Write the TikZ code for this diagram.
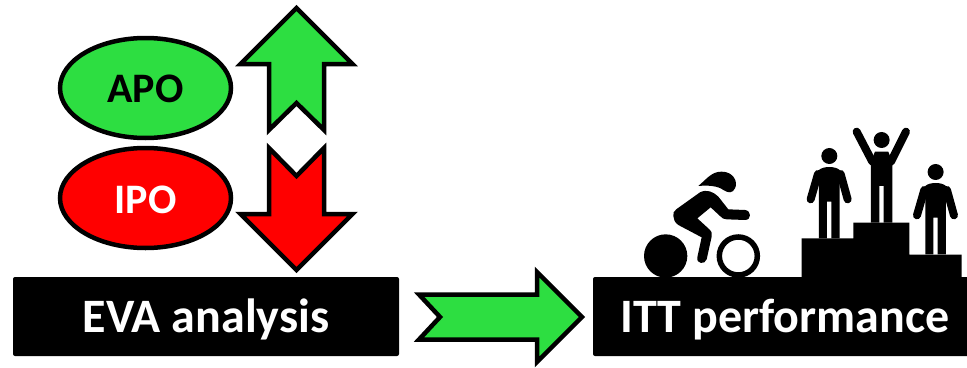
\documentclass[tikz,border=0pt]{standalone}
\usepackage{fontspec}
\setmainfont{Carlito}
\definecolor{upgreen}{HTML}{2DDE41}
\definecolor{downred}{HTML}{FF0000}
\tikzset{
  oval/.style={draw=black,line width=4.5pt,ellipse,minimum width=171pt,minimum height=100pt,inner sep=0pt,font=\bfseries\fontsize{42}{46}\selectfont},
  bar/.style={fill=black,rounded corners=2pt,text=white,inner sep=0pt,font=\bfseries\fontsize{48}{52}\selectfont},
  arrowshape/.style={draw=black,line width=4.5pt,miter limit=10,line join=miter},
  limb/.style={draw=black,line cap=round,line join=round,line width=#1},
  person/.pic={
    \fill[black] (628,138) circle (24);
    \fill[black] (597,385) -- (597,180) .. controls (610,168) and (646,168) .. (659,180) -- (659,385) -- (634,385) -- (634,275) -- (621,275) -- (621,385) -- cycle;
    \draw[limb=8pt] (594,192) -- (572,268);
    \draw[limb=8pt] (662,192) -- (683,268);
  }
}
\usetikzlibrary{shapes.geometric}
\begin{document}
\begin{tikzpicture}[x=1pt,y=-1pt]
\useasboundingbox (0,0) rectangle (967,367);
\node[oval,fill=upgreen,text=black] (apo) at (145.5,88) {\raisebox{-1pt}[\height][\depth]{APO}};
\node[oval,fill=downred,text=white] (ipo) at (145.5,198) {\raisebox{-2pt}[\height][\depth]{IPO}};
\draw[arrowshape,fill=upgreen] (296.5,8) -- (352.5,64) -- (324,64) -- (324,130) -- (296.5,103) -- (269,130) -- (269,64) -- (240.5,64) -- cycle;
\draw[arrowshape,fill=downred] (296.5,270) -- (352.5,214) -- (324,214) -- (324,148) -- (296.5,176) -- (269,148) -- (269,214) -- (240.5,214) -- cycle;
\draw[arrowshape,fill=upgreen] (582,317) -- (537,272) -- (537,294.5) -- (419,294.5) -- (440,317) -- (419,339.5) -- (537,339.5) -- (537,362) -- cycle;
\node[bar,minimum width=386pt,minimum height=79pt] (eva) at (206,316.5) {\raisebox{-3pt}[\height][\depth]{EVA analysis}};
\node[bar,minimum width=384pt,minimum height=79pt] (itt) at (785,316.5) {\raisebox{-3pt}[\height][\depth]{ITT performance}};
\begin{scope}[shift={(620,110)},x=0.3333pt,y=-0.3333pt]
  % podium
  \fill[black] (545,502) -- (545,385) -- (700,385) -- (700,338) -- (868,338) -- (868,434) -- (1025,434) -- (1025,502) -- cycle;
  \pic at (0,0) {person};
  \pic at (319,48) {person};
  % winner
  \fill[black] (785,90) circle (24);
  \fill[black] (753,338) -- (753,155) -- (765,125) -- (805,125) -- (817,155) -- (817,338) -- (791,338) -- (791,228) -- (778,228) -- (778,338) -- cycle;
  \draw[limb=8pt] (757,155) -- (710,65);
  \draw[limb=8pt] (813,155) -- (858,65);
  % cyclist
  \fill[black] (137,438) circle (65);
  \draw[black,line width=5.5pt] (355,438) circle (57);
  \fill[black] (235,228) .. controls (262,205) and (275,185) .. (305,185) .. controls (340,185) and (355,215) .. (345,235) .. controls (338,250) and (325,250) .. (310,240) .. controls (295,228) and (265,225) .. cycle;
  \fill[black] (160,318) .. controls (158,310) and (162,302) .. (170,297) -- (240,247) .. controls (260,237) and (280,245) .. (295,260) -- (325,298) -- (375,300) .. controls (395,302) and (395,330) .. (375,330) -- (320,328) .. controls (312,328) and (306,325) .. (300,318) -- (272,292) -- (232,325) -- (268,358) .. controls (276,366) and (277,372) .. (275,380) -- (260,448) .. controls (255,465) and (228,462) .. (232,442) -- (245,382) -- (175,345) .. controls (165,338) and (160,328) .. (160,318) -- cycle;
\end{scope}
\end{tikzpicture}
\end{document}
